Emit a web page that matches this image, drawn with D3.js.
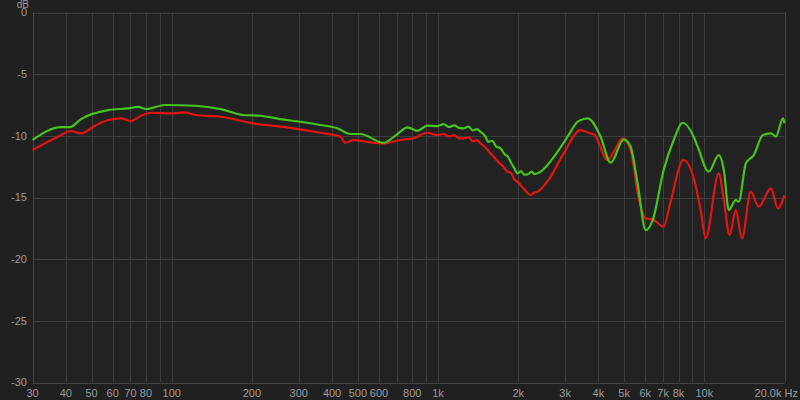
<!DOCTYPE html>
<html><head><meta charset="utf-8">
<script src="https://cdn.jsdelivr.net/npm/d3@7/dist/d3.min.js"></script>
<style>
html,body{margin:0;padding:0;background:#202020;}
svg{display:block;}
text{font-family:"Liberation Sans",Arial,sans-serif;font-size:11px;fill:#9a9a9a;}
</style></head>
<body>
<svg id="c" width="800" height="400"></svg>
<script>
const greenFreq = [30,38.4,41.5,45.6,57.7,68.6,74.8,80.2,94.4,122.5,153,185,215,255,304,361,419,469,511,624,700,768,836,912,996,1050,1100,1150,1200,1246,1300,1350,1400,1443,1500,1546,1600,1650,1717,1780,1830,1872,1930,1989,2050,2100,2169,2250,2300,2427,2811,3064,3342,3519,3648,4078,4449,4980,5287,5614,6021,6399,7036,7675,8300,9121,9444,10383,11327,11834,12360,13124,13461,14325,15337,16594,17787,18557,19728,20000];
const greenDb = [-10.34,-9.29,-9.29,-8.64,-7.91,-7.77,-7.66,-7.83,-7.50,-7.56,-7.83,-8.31,-8.37,-8.64,-8.86,-9.12,-9.39,-9.85,-9.85,-10.56,-9.9,-9.31,-9.59,-9.18,-9.21,-9.05,-9.30,-9.15,-9.35,-9.39,-9.25,-9.55,-9.45,-9.67,-10.0,-10.48,-10.4,-10.85,-11.01,-11.5,-11.7,-12.10,-12.6,-13.04,-12.85,-13.15,-13.12,-12.9,-13.1,-12.91,-11.29,-10.07,-8.86,-8.64,-8.58,-10.07,-12.18,-10.28,-10.88,-13.85,-17.64,-16.83,-12.77,-10.34,-8.94,-10.07,-10.88,-12.91,-11.56,-12.77,-16.02,-15.21,-15.34,-12.23,-11.56,-9.94,-9.80,-10.07,-8.58,-8.98];

const redFreq = [30,37.4,41.9,45.6,51.5,57.7,64.5,70.4,76.7,83.7,99.5,112,122.5,153,202,271,361,430,448,481,557,624,723,808,912,996,1050,1100,1150,1200,1246,1300,1350,1400,1443,1500,1575,1650,1700,1760,1820,1880,1930,1989,2100,2227,2300,2364,2645,2962,3430,3739,3840,4335,4530,4937,5287,5654,6021,6460,7036,7444,8340,9121,9687,10116,11327,11834,12444,13124,13848,14939,16005,17787,18887,20000];
const redDb = [-11.15,-10.07,-9.61,-9.80,-9.18,-8.72,-8.58,-8.80,-8.37,-8.13,-8.18,-8.09,-8.31,-8.45,-8.99,-9.31,-9.75,-10.07,-10.56,-10.34,-10.53,-10.61,-10.34,-10.20,-9.75,-9.94,-9.85,-10.05,-9.95,-10.2,-10.20,-10.1,-10.45,-10.35,-10.61,-10.9,-11.42,-11.9,-12.2,-12.51,-12.9,-13.0,-13.5,-13.72,-14.3,-14.80,-14.6,-14.53,-13.32,-11.42,-9.53,-9.80,-9.85,-11.96,-11.42,-10.20,-11.15,-14.94,-16.69,-16.83,-17.37,-15.47,-11.96,-13.42,-16.02,-18.31,-13.04,-15.21,-18.05,-16.02,-18.31,-14.53,-15.75,-14.26,-15.88,-14.80];

const yTicks = [0,-5,-10,-15,-20,-25,-30];
const xGridValues = [30,40,50,60,70,80,90,100,200,300,400,500,600,700,800,900,1000,2000,3000,4000,5000,6000,7000,8000,9000,10000,20000];
const xTickValues = [30,40,50,60,70,80,100,200,300,400,500,600,800,1000,2000,3000,4000,5000,6000,7000,8000,10000];
const xTickLabels = ["30","40","50","60","70","80","100","200","300","400","500","600","800","1k","2k","3k","4k","5k","6k","7k","8k","10k"];
const lastTickLabel = "20.0k Hz";
const yUnitLabel = "dB";

const svg = d3.select("#c");
const x = d3.scaleLog().domain([30,20000]).range([32.5,784.5]);
const y = d3.scaleLinear().domain([-30,0]).range([382.5,12.5]);
const px = v => Math.round(x(v)) + 0.5;
const py = v => Math.round(y(v)) + 0.5;

svg.append("rect").attr("x",0).attr("y",0).attr("width",800).attr("height",400).attr("fill","#202020");
svg.append("rect").attr("x",x(30)).attr("y",y(0)).attr("width",x(20000)-x(30)).attr("height",y(-30)-y(0)).attr("fill","#222222");

const grid = svg.append("g").attr("stroke","#3e3e3e").attr("stroke-width",1);
grid.selectAll("line.v").data(xGridValues).join("line").attr("class","v")
  .attr("x1",d=>px(d)).attr("x2",d=>px(d)).attr("y1",y(0)).attr("y2",y(-30));
grid.selectAll("line.h").data(yTicks).join("line").attr("class","h")
  .attr("x1",x(30)).attr("x2",x(20000)).attr("y1",d=>py(d)).attr("y2",d=>py(d));

// border lines
svg.append("line").attr("x1",px(30)).attr("x2",px(30)).attr("y1",y(0)).attr("y2",y(-30)).attr("stroke","#444");
svg.append("line").attr("x1",x(30)).attr("x2",x(20000)).attr("y1",py(-30)).attr("y2",py(-30)).attr("stroke","#444");
svg.append("line").attr("x1",px(20000)).attr("x2",px(20000)).attr("y1",y(0)).attr("y2",y(-30)).attr("stroke","#444");

// y labels
svg.append("g").selectAll("text").data(yTicks).join("text")
  .attr("x",27).attr("y",d=>y(d)).attr("dy","0.35em").attr("text-anchor","end").text(d=>d);
svg.append("text").attr("x",29).attr("y",8).attr("text-anchor","end").style("font-size","10px").text(yUnitLabel);

// x labels
svg.append("g").selectAll("text").data(xTickValues).join("text")
  .attr("x",d=>x(d)).attr("y",393).attr("dy","0.35em").attr("text-anchor","middle").text((d,i)=>xTickLabels[i]);
svg.append("text").attr("x",798).attr("y",393).attr("dy","0.35em").attr("text-anchor","end").text(lastTickLabel);

const line = d3.line().x(d=>x(d[0])).y(d=>y(d[1])).curve(d3.curveMonotoneX);
const redData = redFreq.map((f,i)=>[f,redDb[i]]);
const greenData = greenFreq.map((f,i)=>[f,greenDb[i]]);
svg.append("path").attr("d",line(redData)).attr("fill","none").attr("stroke","#e4140f").attr("stroke-width",2.2).attr("stroke-linejoin","round");
svg.append("path").attr("d",line(greenData)).attr("fill","none").attr("stroke","#45c41d").attr("stroke-width",2.2).attr("stroke-linejoin","round");
</script>
</body></html>
